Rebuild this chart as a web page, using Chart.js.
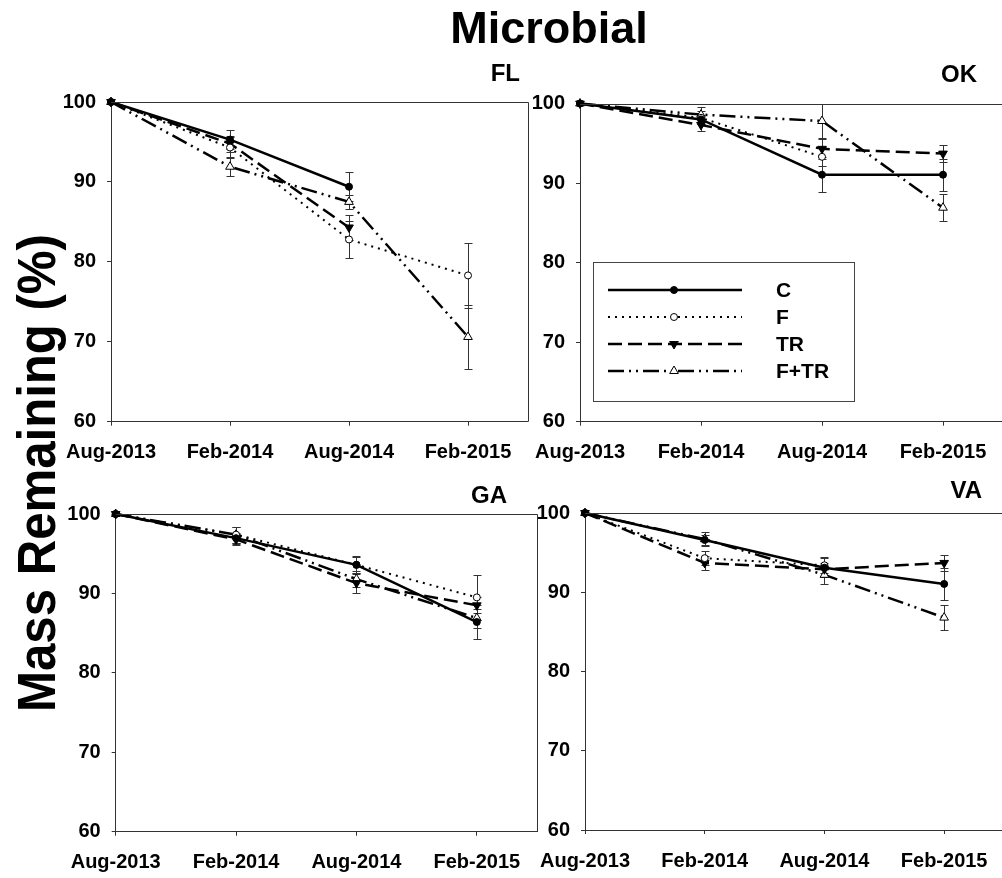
<!DOCTYPE html>
<html>
<head>
<meta charset="utf-8">
<script src="https://cdn.jsdelivr.net/npm/chart.js@4.4.1/dist/chart.umd.min.js"></script>
<style>
    body { margin: 0; background: #fff; overflow: hidden; width: 1002px; height: 878px; }
    canvas { position: absolute; left: 0; top: 0; }
</style>
</head>
<body>
<canvas id="graphFL" width="1010" height="878"></canvas>
<canvas id="graphOK" width="1010" height="878"></canvas>
<canvas id="graphGA" width="1010" height="878"></canvas>
<canvas id="graphVA" width="1010" height="878"></canvas>
<script>
var dates = ['Aug-2013', 'Feb-2014', 'Aug-2014', 'Feb-2015'];
var traitements = ['C', 'F', 'TR', 'F+TR'];
var yTicks = [60, 70, 80, 90, 100];

//FL
var fl_C = [100, 95.3, 89.4, null];
var fl_C_err = [0, 1.2, 1.8, null];
var fl_F = [100, 94.3, 82.8, 78.3];
var fl_F_err = [0, 1.3, 2.3, 4.1];
var fl_TR = [100, 94.8, 84.3, null];
var fl_TR_err = [0, 1.0, 1.6, null];
var fl_FTR = [100, 91.9, 87.5, 70.6];
var fl_FTR_err = [0, 1.2, 0.9, 4.0];

//OK
var ok_C = [100, 98.0, 91.05, 91.05];
var ok_C_err = [0, 0.6, 2.2, 2.0];
var ok_F = [100, 98.2, 93.3, null];
var ok_F_err = [0, 0.8, 1.2, null];
var ok_TR = [100, 97.3, 94.3, 93.7];
var ok_TR_err = [0, 0.8, 1.3, 1.05];
var ok_FTR = [100, 98.6, 97.8, 86.9];
var ok_FTR_err = [0, 0.9, 2.1, 1.7];

//GA
var ga_C = [100, 96.96, 93.6, 86.4];
var ga_C_err = [0, 0.7, 1.1, 2.2];
var ga_F = [100, 97.4, 93.6, 89.5];
var ga_F_err = [0, 1.0, 1.0, 2.8];
var ga_TR = [100, 96.8, 91.3, 88.5];
var ga_TR_err = [0, 0.7, 1.3, 1.0];
var ga_FTR = [100, 97.4, 91.8, 86.9];
var ga_FTR_err = [0, 1.0, 1.0, 1.2];

//VA
var va_C = [100, 96.6, 93.1, 91.05];
var va_C_err = [0, 0.6, 1.2, 2.07];
var va_F = [100, 94.3, 93.4, null];
var va_F_err = [0, 0.9, 1.0, null];
var va_TR = [100, 93.7, 92.9, 93.7];
var va_TR_err = [0, 0.9, 0.8, 1.0];
var va_FTR = [100, 96.7, 92.2, 86.8];
var va_FTR_err = [0, 0.85, 1.1, 1.6];

var fontFamily = "'Liberation Sans', Arial, sans-serif";
var axisColor = '#333';

// line + marker style per treatment: C, F, TR, F+TR
var styles = [
    { dash: [], width: 2.5, pointStyle: 'circle', rotation: 0, radius: 3.5, fill: '#000' },
    { dash: [2, 5], width: 2, pointStyle: 'circle', rotation: 0, radius: 3.5, fill: '#fff' },
    { dash: [14, 6], width: 2.5, pointStyle: 'triangle', rotation: 180, radius: 5, fill: '#000' },
    { dash: [16, 5, 2, 5, 2, 5], width: 2.5, pointStyle: 'triangle', rotation: 0, radius: 5, fill: '#fff' }
];

function toPoints(values) {
    return values.map(function (v, i) { return { x: i, y: v }; });
}

function buildDataset(index, values, errors) {
    var s = styles[index];
    return {
        label: traitements[index],
        data: toPoints(values),
        errors: errors,
        borderColor: '#000',
        borderWidth: s.width,
        borderDash: s.dash,
        tension: 0,
        fill: false,
        clip: false,
        pointStyle: s.pointStyle,
        pointRotation: s.rotation,
        pointRadius: s.radius,
        pointBackgroundColor: s.fill,
        pointBorderColor: '#000',
        pointBorderWidth: 1
    };
}

//Barres d'erreur
var errorBarsPlugin = {
    id: 'errorBars',
    beforeDatasetsDraw: function (chart) {
        var ctx = chart.ctx;
        var xs = chart.scales.x;
        var ys = chart.scales.y;
        ctx.save();
        ctx.strokeStyle = axisColor;
        ctx.lineWidth = 1;
        chart.data.datasets.forEach(function (ds) {
            ds.data.forEach(function (pt, i) {
                var e = ds.errors[i];
                if (pt.y === null || !e) return;
                var px = Math.round(xs.getPixelForValue(pt.x)) + 0.5;
                var top = Math.round(ys.getPixelForValue(pt.y + e)) + 0.5;
                var bot = Math.round(ys.getPixelForValue(pt.y - e)) + 0.5;
                ctx.beginPath();
                ctx.moveTo(px, top); ctx.lineTo(px, bot);
                ctx.moveTo(px - 4, top); ctx.lineTo(px + 4, top);
                ctx.moveTo(px - 4, bot); ctx.lineTo(px + 4, bot);
                ctx.stroke();
            });
        });
        ctx.restore();
    }
};

//Cadre, nom du site, légende
var framePlugin = {
    id: 'frame',
    afterDraw: function (chart, args, opts) {
        var ctx = chart.ctx;
        var a = chart.chartArea;
        ctx.save();
        ctx.strokeStyle = axisColor;
        ctx.lineWidth = 1;
        ctx.beginPath();
        ctx.moveTo(a.left, Math.round(a.top) + 0.5);
        ctx.lineTo(Math.round(a.right) + 0.5, Math.round(a.top) + 0.5);
        ctx.lineTo(Math.round(a.right) + 0.5, a.bottom);
        ctx.stroke();

        ctx.fillStyle = '#000';
        ctx.font = 'bold 24px ' + fontFamily;
        ctx.textAlign = 'right';
        ctx.textBaseline = 'alphabetic';
        ctx.fillText(opts.label, opts.labelX, opts.labelY);

        if (opts.legend) {
            var box = opts.legend;
            ctx.strokeStyle = '#444';
            ctx.strokeRect(box.x + 0.5, box.y + 0.5, box.w, box.h);
            chart.data.datasets.forEach(function (ds, i) {
                var y = box.y + 28 + i * 27;
                ctx.save();
                ctx.strokeStyle = '#000';
                ctx.lineWidth = ds.borderWidth;
                ctx.setLineDash(ds.borderDash);
                ctx.beginPath();
                ctx.moveTo(box.x + 15, y);
                ctx.lineTo(box.x + 149, y);
                ctx.stroke();
                ctx.setLineDash([]);
                ctx.lineWidth = 1;
                ctx.fillStyle = ds.pointBackgroundColor;
                Chart.helpers.drawPoint(ctx, {
                    pointStyle: ds.pointStyle,
                    rotation: ds.pointRotation,
                    radius: ds.pointRadius,
                    borderWidth: 1
                }, box.x + 81, y);
                ctx.restore();
                ctx.fillStyle = '#000';
                ctx.font = 'bold 21px ' + fontFamily;
                ctx.textAlign = 'left';
                ctx.textBaseline = 'middle';
                ctx.fillText(ds.label, box.x + 183, y + 1);
            });
        }
        ctx.restore();
    }
};

//Titres généraux
var titlesPlugin = {
    id: 'titles',
    afterDraw: function (chart, args, opts) {
        if (!opts.show) return;
        var ctx = chart.ctx;
        ctx.save();
        ctx.fillStyle = '#000';
        ctx.font = 'bold 45px ' + fontFamily;
        ctx.textAlign = 'center';
        ctx.textBaseline = 'alphabetic';
        ctx.fillText('Microbial', 549, 43);
        ctx.translate(55, 473);
        ctx.rotate(-Math.PI / 2);
        ctx.scale(0.91, 1);
        ctx.font = 'bold 54px ' + fontFamily;
        ctx.fillText('Mass Remaining (%)', 0, 0);
        ctx.restore();
    }
};

function DisplayGraphSite(graphId, site, area, labelPos, legend, C, C_err, F, F_err, TR, TR_err, FTR, FTR_err) {
    var ctx = document.getElementById(graphId).getContext('2d');
    var tickFont = { family: fontFamily, size: 20, weight: 'bold' };
    return new Chart(ctx, {
        type: 'line',
        data: {
            datasets: [
                buildDataset(0, C, C_err),
                buildDataset(1, F, F_err),
                buildDataset(2, TR, TR_err),
                buildDataset(3, FTR, FTR_err)
            ]
        },
        options: {
            responsive: false,
            animation: false,
            events: [],
            layout: {
                autoPadding: false,
                padding: {
                    left: area.left - 60,
                    top: area.top,
                    right: 1010 - area.right,
                    bottom: 878 - area.bottom - 50
                }
            },
            scales: {
                x: {
                    type: 'linear',
                    min: 0,
                    max: 3.5,
                    afterFit: function (s) { s.height = 50; },
                    afterBuildTicks: function (s) {
                        s.ticks = dates.map(function (d, i) { return { value: i }; });
                    },
                    ticks: {
                        callback: function (v) { return dates[v]; },
                        autoSkip: false,
                        maxRotation: 0,
                        minRotation: 0,
                        padding: 15,
                        color: '#000',
                        font: tickFont
                    },
                    grid: { drawOnChartArea: false, tickLength: 4, color: axisColor },
                    border: { color: axisColor, width: 1 }
                },
                y: {
                    min: 60,
                    max: 100,
                    afterFit: function (s) { s.width = 60; },
                    afterBuildTicks: function (s) {
                        s.ticks = yTicks.map(function (v) { return { value: v }; });
                    },
                    ticks: {
                        padding: 11,
                        color: '#000',
                        font: tickFont
                    },
                    grid: { drawOnChartArea: false, tickLength: 4, color: axisColor },
                    border: { color: axisColor, width: 1 }
                }
            },
            plugins: {
                legend: { display: false },
                tooltip: { enabled: false },
                frame: { label: site, labelX: labelPos[0], labelY: labelPos[1], legend: legend },
                titles: { show: site === 'FL' }
            }
        },
        plugins: [errorBarsPlugin, framePlugin, titlesPlugin]
    });
}

DisplayGraphSite('graphFL', 'FL', { left: 111, top: 102, right: 527.5, bottom: 421.7 }, [520, 81], null,
    fl_C, fl_C_err, fl_F, fl_F_err, fl_TR, fl_TR_err, fl_FTR, fl_FTR_err);
DisplayGraphSite('graphOK', 'OK', { left: 580, top: 103.5, right: 1003.5, bottom: 421.7 }, [977, 82],
    { x: 593, y: 262, w: 261, h: 139 },
    ok_C, ok_C_err, ok_F, ok_F_err, ok_TR, ok_TR_err, ok_FTR, ok_FTR_err);
DisplayGraphSite('graphGA', 'GA', { left: 115.7, top: 514, right: 537, bottom: 831.7 }, [507, 503], null,
    ga_C, ga_C_err, ga_F, ga_F_err, ga_TR, ga_TR_err, ga_FTR, ga_FTR_err);
DisplayGraphSite('graphVA', 'VA', { left: 585, top: 513, right: 1004, bottom: 830 }, [982, 498], null,
    va_C, va_C_err, va_F, va_F_err, va_TR, va_TR_err, va_FTR, va_FTR_err);
</script>
</body>
</html>
